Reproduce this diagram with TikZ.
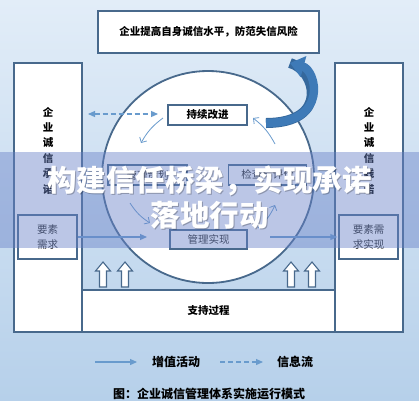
\documentclass[tikz,border=0pt]{standalone}
\usepackage{fontspec}
\newfontfamily\cjk{Noto Sans CJK SC}
\usetikzlibrary{arrows.meta}
\definecolor{bgtop}{RGB}{226,237,248}
\definecolor{bgbot}{RGB}{182,208,234}
\definecolor{edge}{RGB}{72,105,140}
\definecolor{flow}{RGB}{105,155,205}
\definecolor{bigarr}{RGB}{62,122,183}
\definecolor{bandc}{RGB}{105,130,200}
\tikzset{
  lbl/.style={font=\cjk\bfseries\fontsize{10.5}{15.4}\selectfont, text=black},
  lblr/.style={font=\cjk\fontsize{10.5}{15}\selectfont, text=black!85},
  box/.style={draw=edge, line width=1.7pt, fill=white, inner sep=0pt},
  inbox/.style={draw=edge, line width=1.4pt, fill=white, inner sep=0pt, minimum height=20pt},
  thinarr/.style={draw=flow, line width=0.8pt, -{Straight Barb[length=4pt,width=8pt]}},
  flowarr/.style={draw=flow, line width=1.2pt, -{Triangle[length=7pt,width=6pt]}},
  infoarr/.style={draw=flow, line width=1.2pt, dash pattern=on 5pt off 3pt},
  upblock/.style={draw=edge, line width=1.1pt, fill=white},
}
\begin{document}
\begin{tikzpicture}[x=1pt,y=-1pt]
\useasboundingbox (0,0) rectangle (419,400);
\shade[top color=bgtop, bottom color=bgbot] (0,0) rectangle (419,400);

% top goal box
\node[box, lbl, minimum width=221pt, minimum height=42pt] (goal) at (208.5,32) {企业提高自身诚信水平，防范失信风险};

% tall side boxes
\node[box, minimum width=68pt, minimum height=269pt] (lbox) at (48,197.5) {};
\node[box, minimum width=68pt, minimum height=269pt] (rbox) at (369,197.5) {};
\node[lbl, align=center] (ltxt) at (48,150.5) {企\\业\\诚\\信\\承\\诺};
\node[lbl, align=center] (rtxt) at (369,150.5) {企\\业\\诚\\信\\践\\诺};

% requirement boxes
\node[box, lblr, align=center, minimum width=59pt, minimum height=44pt, line width=1.5pt] (req) at (47.5,237) {要素\\需求};
\node[box, lblr, align=center, minimum width=59pt, minimum height=44pt, line width=1.5pt] (reqr) at (368.5,237) {要素需\\求实现};

% support box
\node[box, lbl, minimum width=253pt, minimum height=42pt] (supp) at (208.5,311) {支持过程};

% circle
\node[draw=edge, line width=1.8pt, fill=white, circle, minimum size=212pt, inner sep=0pt] (circ) at (208,177) {};

% inner boxes
\node[inbox, lbl, minimum width=79pt] (act) at (207.5,115) {持续改进};
\node[inbox, lblr, minimum width=79pt] (plan) at (147.5,175) {管理策划};
\node[inbox, lblr, minimum width=78pt] (check) at (267.5,175) {检查与评价};
\node[inbox, lblr, minimum width=77pt, minimum height=19pt] (do) at (208.5,239.5) {管理实现};

% thin cycle arrows
\coordinate (a1s) at (163,118); \coordinate (a1e) at (141,143);
\coordinate (a2s) at (275,144); \coordinate (a2e) at (253,118);
\coordinate (a3s) at (130,203); \coordinate (a3e) at (150,223);
\coordinate (a4s) at (258,228); \coordinate (a4e) at (275,205);
\draw[thinarr] (a1s) to[bend right=12] (a1e);
\draw[thinarr] (a2s) to[bend right=12] (a2e);
\draw[thinarr] (a3s) to[bend right=12] (a3e);
\draw[thinarr] (a4s) to[bend right=12] (a4e);

% dashed info arrow
\coordinate (dl) at (88,114); \coordinate (dr) at (158,114);
\draw[infoarr, {Triangle[length=7pt,width=6pt]}-{Triangle[length=7pt,width=6pt]}] (dl) -- (dr);

% horizontal value arrows
\coordinate (hl) at (147,237); \coordinate (hr) at (270,237);
\draw[flowarr] (req.east) -- (hl);
\draw[flowarr] (hr) -- ([xshift=-1pt]reqr.west);

% big curved arrow
\coordinate (bs) at (266,123); \coordinate (be) at (290,63);
\draw[bigarr!85!black, line width=10pt] (bs) .. controls (330,123) and (316,70) .. (be);
\draw[bigarr, line width=8.4pt, -{Triangle[length=14pt,width=21pt]}] (bs) .. controls (330,123) and (316,70) .. (be);

% hollow up arrows
\foreach \ux in {103,125,291,312}{
  \draw[upblock] (\ux,262) -- (\ux+7.5,271) -- (\ux+3.5,271) -- (\ux+3.5,287) -- (\ux-3.5,287) -- (\ux-3.5,271) -- (\ux-7.5,271) -- cycle;
}

% semi-transparent band
\fill[bandc, opacity=0.45] (0,152) rectangle (419,248);

% headline
\node[font=\cjk\bfseries\fontsize{29.5}{35}\selectfont, text=black, opacity=0.25, align=center] (hshadow) at (210.5,198.5) {构建信任桥梁，实现承诺\\落地行动};
\node[font=\cjk\bfseries\fontsize{29.5}{35}\selectfont, text=white, align=center] (head) at (209.5,197.5) {构建信任桥梁，实现承诺\\落地行动};

% legend
\coordinate (l1s) at (95,362); \coordinate (l1e) at (137,362);
\coordinate (l2s) at (220,362); \coordinate (l2e) at (263,362);
\draw[flowarr] (l1s) -- (l1e);
\node[font=\cjk\bfseries\fontsize{12}{14}\selectfont] (lg1) at (176,362) {增值活动};
\draw[infoarr, -{Triangle[length=7pt,width=6pt]}] (l2s) -- (l2e);
\node[font=\cjk\bfseries\fontsize{12}{14}\selectfont] (lg2) at (295,362) {信息流};

% caption
\node[font=\cjk\bfseries\fontsize{12}{14}\selectfont] (cap) at (209,394) {图：企业诚信管理体系实施运行模式};
\end{tikzpicture}
\end{document}
